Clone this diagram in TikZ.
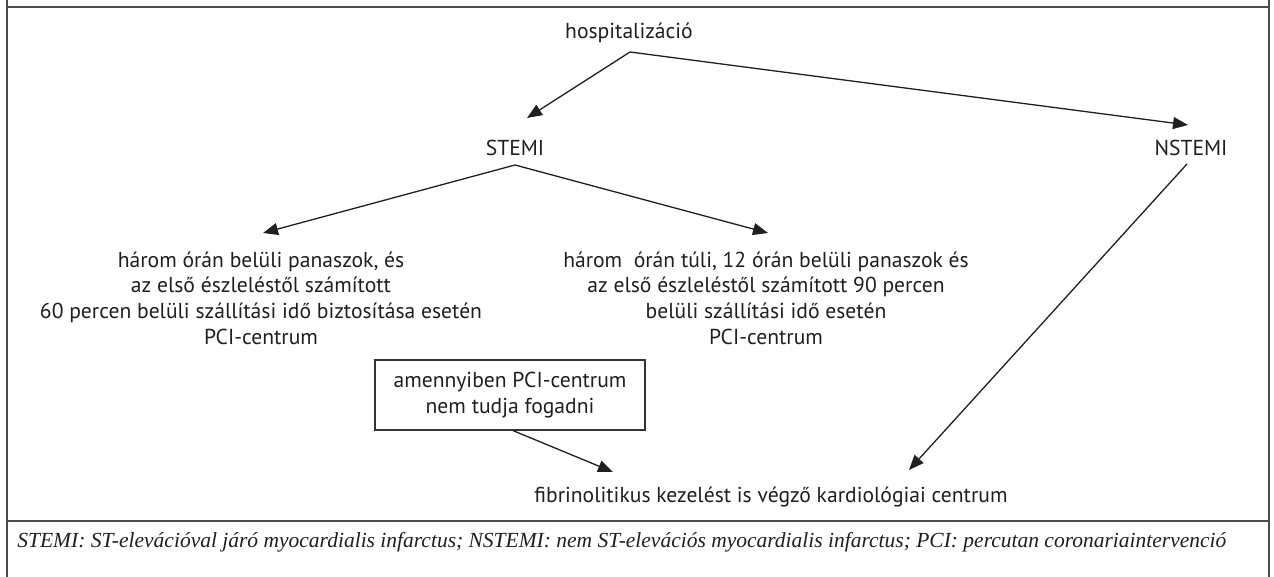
\documentclass[tikz,border=0pt]{standalone}
\usepackage{fontspec}
\newfontfamily\mainsans{PT Sans}
\newfontfamily\notefont{Liberation Serif}
\usetikzlibrary{arrows.meta}
\begin{document}
\begin{tikzpicture}[x=0.5pt,y=-0.5pt,
  txt/.style={inner sep=0pt, font=\mainsans\fontsize{10.8}{12.8}\selectfont, text=black!88, align=center},
  arr/.style={-{Triangle[length=7.5pt,width=6pt]}, line width=0.65pt, draw=black!88},
  frame/.style={line width=0.9pt, draw=black!70},
  boxed/.style={txt, draw=black!80, line width=0.6pt, minimum width=135pt, minimum height=35pt}]
\useasboundingbox (0,0) rectangle (1274,577);
\draw[frame] (7,0) -- (7,577);
\draw[frame] (1269,0) -- (1269,577);
\draw[frame] (7,7) -- (1269,7);
\draw[frame] (7,521) -- (1269,521);

\node[txt] (hosp) at (629,33) {hospitalizáció};
\node[txt] (stemi) at (515,148) {STEMI};
\node[txt] (nstemi) at (1191,148) {NSTEMI};
\node[txt] (left) at (261,298) {három órán belüli panaszok, és\\az első észleléstől számított\\60 percen belüli szállítási idő biztosítása esetén\\PCI-centrum};
\node[txt] (right) at (766,298) {három\ \ órán túli, 12 órán belüli panaszok és\\az első észleléstől számított 90 percen\\belüli szállítási idő esetén\\PCI-centrum};
\node[boxed] (box) at (510,395) {amennyiben PCI-centrum\\nem tudja fogadni};
\node[txt] (fib) at (771,497) {fibrinolitikus kezelést is végző kardiológiai centrum};
\node[anchor=west, inner sep=0pt, text=black!88, font=\notefont\itshape\fontsize{10.75}{13}\selectfont] (note) at (17,542) {STEMI: ST-elevációval járó myocardialis infarctus; NSTEMI: nem ST-elevációs myocardialis infarctus; PCI: percutan coronariaintervenció};

\draw[arr] ([xshift=0.5pt,yshift=-9.5pt]hosp.center) -- ([xshift=6pt,yshift=15pt]stemi.center);
\draw[arr] ([xshift=0.5pt,yshift=-9.5pt]hosp.center) -- ([xshift=-1.5pt,yshift=11.5pt]nstemi.center);
\draw[arr] ([yshift=-8.5pt]stemi.center) -- ([xshift=1pt,yshift=32.5pt]left.center);
\draw[arr] ([yshift=-8.5pt]stemi.center) -- ([xshift=1pt,yshift=32.5pt]right.center);
\draw[arr] ([xshift=1.5pt]box.south) -- ([xshift=-79pt,yshift=12.5pt]fib.center);
\draw[arr] ([xshift=-2pt,yshift=-8pt]nstemi.center) -- ([xshift=69pt,yshift=13.5pt]fib.center);
\end{tikzpicture}
\end{document}
